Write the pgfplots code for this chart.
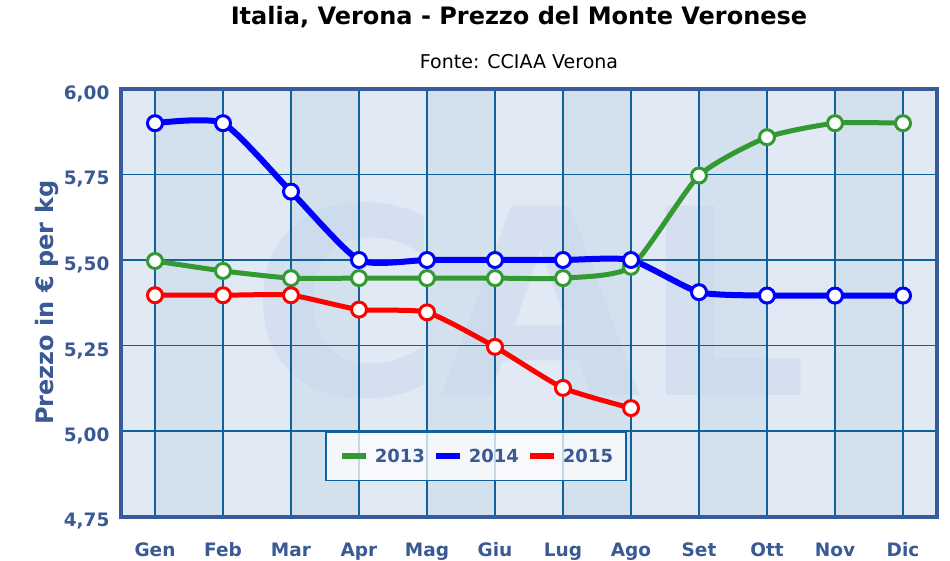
\documentclass[border=0pt]{standalone}
\usepackage{fontspec}
\setmainfont{DejaVu Sans}
\usepackage{pgfplots}
\pgfplotsset{compat=1.18}
\definecolor{bgA}{HTML}{E1E9F4}
\definecolor{bgB}{HTML}{D3E1EE}
\definecolor{gridc}{HTML}{10609A}
\definecolor{framec}{HTML}{3A5B9B}
\definecolor{labc}{HTML}{3B5A94}
\definecolor{cgreen}{HTML}{339933}
\definecolor{cblue}{HTML}{0000FF}
\definecolor{cred}{HTML}{FF0000}
\definecolor{logoc}{HTML}{C6D7EC}
\begin{document}
\begin{tikzpicture}[x=1pt,y=1pt]
\begin{axis}[
  set layers,
  at={(0,0)}, anchor=south west,
  scale only axis, width=816pt, height=427.5pt,
  xmin=-0.5, xmax=11.5, ymin=4.75, ymax=6.0,
  xtick={0,...,11},
  xticklabels={Gen,Feb,Mar,Apr,Mag,Giu,Lug,Ago,Set,Ott,Nov,Dic},
  ytick={4.75,5,5.25,5.5,5.75,6},
  grid=major,
  major grid style={draw=gridc, line width=1.5pt},
  tick style={draw=none},
  axis line style={draw=framec, line width=4pt},
  axis background/.style={fill=bgA},
  ticklabel style={font=\bfseries\fontsize{18.5}{21}\selectfont, text=labc},
  /pgf/number format/.cd, use comma, fixed, fixed zerofill, precision=2, assume math mode=true,
  /pgfplots/.cd,
  yticklabel style={xshift=-8pt, yshift=-5pt},
  xticklabel style={anchor=base, yshift=-40pt},
  every axis y label/.style={at={(axis description cs:-0.091,0.5)}, anchor=center, rotate=90,
    font=\bfseries\fontsize{24}{28}\selectfont, text=labc},
  ylabel={Prezzo in € per kg},
  legend columns=3,
  legend style={at={(axis description cs:0.250,0.2)}, anchor=north west,
    draw=gridc, line width=1.5pt, fill=white, fill opacity=0.75, text opacity=1,
    font=\bfseries\fontsize{18}{21}\selectfont, text=labc,
    nodes={inner sep=0pt},
    inner xsep=13pt, inner ysep=17pt,
    /tikz/every odd column/.append style={column sep=6pt},
    /tikz/every even column/.append style={column sep=8pt}},
  legend image code/.code={\draw[#1, line width=6pt] (0pt,0pt) -- (24pt,0pt);},
  every axis plot/.append style={smooth, tension=0.35, mark=*, mark size=7.5pt},
]
\begin{pgfonlayer}{axis background}
\fill[bgB] (axis cs:0,4.75) rectangle (axis cs:1,6);
\fill[bgB] (axis cs:2,4.75) rectangle (axis cs:3,6);
\fill[bgB] (axis cs:4,4.75) rectangle (axis cs:5,6);
\fill[bgB] (axis cs:6,4.75) rectangle (axis cs:7,6);
\fill[bgB] (axis cs:8,4.75) rectangle (axis cs:9,6);
\fill[bgB] (axis cs:10,4.75) rectangle (axis cs:11,6);
\node[text=logoc, opacity=0.45, font=\bfseries\fontsize{260}{260}\selectfont, inner sep=0pt] at (axis cs:5.5,5.38) {CAL};
\end{pgfonlayer}
\addplot[draw=cgreen, line width=5pt, mark options={fill=white, draw=cgreen, line width=3pt}]
coordinates {(0,5.497) (1,5.468) (2,5.447) (3,5.447) (4,5.447) (5,5.447) (6,5.447) (7,5.48) (8,5.747) (9,5.859) (10,5.90) (11,5.90)};
\addlegendentry{2013}
\addplot[draw=cblue, line width=6pt, mark options={fill=white, draw=cblue, line width=3pt}]
coordinates {(0,5.90) (1,5.90) (2,5.70) (3,5.50) (4,5.50) (5,5.50) (6,5.50) (7,5.50) (8,5.406) (9,5.396) (10,5.396) (11,5.396)};
\addlegendentry{2014}
\addplot[draw=cred, line width=5pt, mark options={fill=white, draw=cred, line width=3pt}]
coordinates {(0,5.397) (1,5.397) (2,5.397) (3,5.355) (4,5.347) (5,5.246) (6,5.126) (7,5.067)};
\addlegendentry{2015}
\end{axis}
\node[font=\bfseries\fontsize{24}{28}\selectfont] at (398,499.5) {Italia, Verona - Prezzo del Monte Veronese};
\node[font=\fontsize{19}{22}\selectfont] at (398,454.5) {Fonte: CCIAA Verona};
\pgfresetboundingbox
\useasboundingbox (-121,-43.5) rectangle (829,516.5);
\end{tikzpicture}
\end{document}
